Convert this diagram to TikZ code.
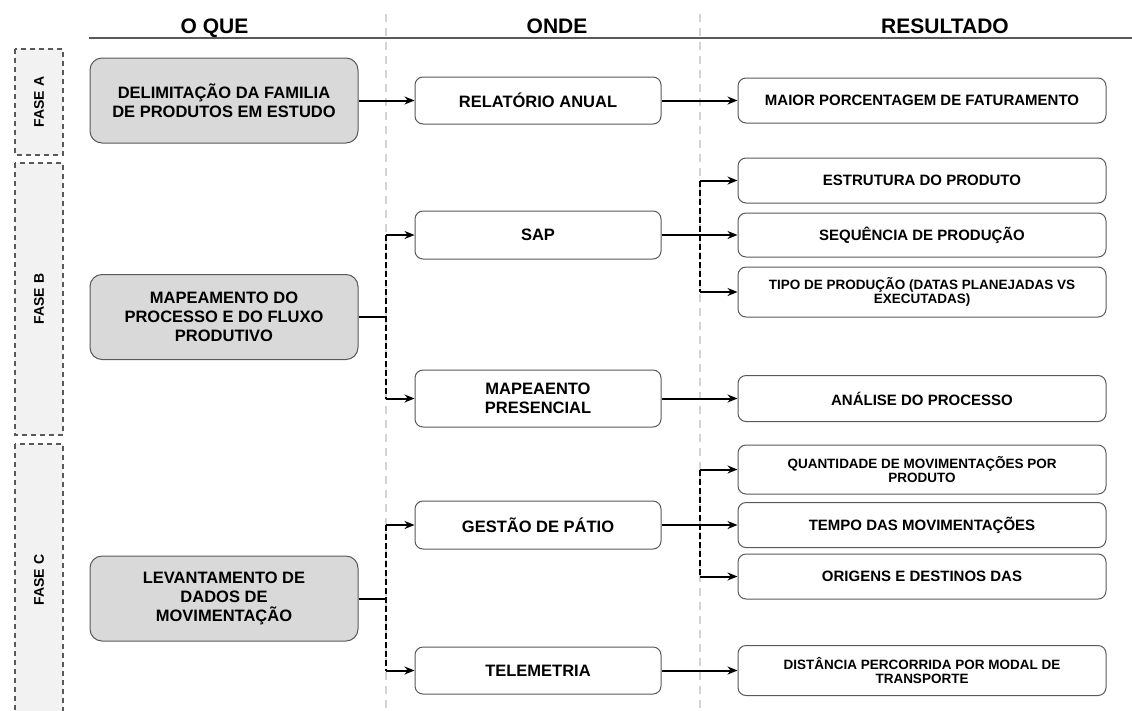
\documentclass[tikz,border=0pt]{standalone}
\usepackage{fontspec}
\setmainfont{Liberation Sans}
\usepackage{tikz}
\usetikzlibrary{arrows.meta,positioning}
\usepackage{xcolor}
\definecolor{boxgray}{RGB}{217,217,217}
\definecolor{fasegray}{RGB}{242,242,242}
\definecolor{edgegray}{RGB}{89,89,89}
\definecolor{sepgray}{RGB}{212,212,212}
\tikzstyle{arrow} = [line width=2pt,-{Stealth[length=10pt,width=8pt]}]
\tikzstyle{link} = [line width=2pt]
\tikzstyle{fork} = [line width=2pt,dash pattern=on 6pt off 3pt]
\tikzstyle{separator} = [sepgray,line width=1.5pt,dash pattern=on 8pt off 6pt]
\tikzstyle{heading} = [anchor=base,font=\fontsize{21}{25}\selectfont\bfseries]
\tikzstyle{phasebox} = [draw=edgegray,fill=fasegray,line width=1.5pt,dash pattern=on 5pt off 4pt,rotate=90,minimum height=48pt,font=\fontsize{14}{16}\selectfont\bfseries]
\tikzstyle{whatbox} = [draw=edgegray,fill=boxgray,line width=1pt,rounded corners=12pt,minimum width=268pt,minimum height=85pt,align=center,font=\fontsize{16.5}{19.3}\selectfont\bfseries]
\tikzstyle{wherebox} = [draw=edgegray,fill=white,line width=1pt,rounded corners=8pt,minimum width=246pt,align=center,font=\fontsize{16.5}{19}\selectfont\bfseries]
\tikzstyle{resultbox} = [draw=edgegray,fill=white,line width=1pt,rounded corners=8pt,minimum width=368pt,align=center,font=\fontsize{15}{17}\selectfont\bfseries]
\tikzstyle{smalltext} = [font=\fontsize{13.5}{14.7}\selectfont\bfseries]

\begin{document}
\begin{tikzpicture}[x=1pt,y=-1pt]
\useasboundingbox (0,0) rectangle (1132,710);

% Column separators
\draw[separator] (386,14) -- (386,710);
\draw[separator] (700,14) -- (700,710);

% Headings
\draw[edgegray,line width=1.5pt] (89,38) -- (1132,38);
\node[heading] (hwhat) at (214.5,33) {O QUE};
\node[heading] (hwhere) at (557,33) {ONDE};
\node[heading] (hresult) at (945,33) {RESULTADO};

% Phases
\node[phasebox,minimum width=106pt] (faseA) at (39,102) {FASE A};
\node[phasebox,minimum width=272pt] (faseB) at (39,299) {FASE B};
\node[phasebox,minimum width=272pt] (faseC) at (39,580) {FASE C};

% O que
\node[whatbox] (whatA) at (224,100.5) {DELIMITAÇÃO DA FAMILIA\\DE PRODUTOS EM ESTUDO};
\node[whatbox] (whatB) at (224,317) {MAPEAMENTO DO\\PROCESSO E DO FLUXO\\PRODUTIVO};
\node[whatbox] (whatC) at (224,598.5) {LEVANTAMENTO DE\\DADOS DE\\MOVIMENTAÇÃO};

% Onde
\node[wherebox,minimum height=47pt] (relatorio) at (538,100.5) {RELATÓRIO ANUAL};
\node[wherebox,minimum height=48pt] (sap) at (538,235) {SAP};
\node[wherebox,minimum height=57pt] (presencial) at (538,398.5) {MAPEAENTO\\PRESENCIAL};
\node[wherebox,minimum height=48pt] (patio) at (538,525) {GESTÃO DE PÁTIO};
\node[wherebox,minimum height=47pt] (telemetria) at (538,670.5) {TELEMETRIA};

% Resultado
\node[resultbox,minimum height=45pt] (faturamento) at (922,100.5) {MAIOR PORCENTAGEM DE FATURAMENTO};
\node[resultbox,minimum height=45pt] (estrutura) at (922,180.5) {ESTRUTURA DO PRODUTO};
\node[resultbox,minimum height=44pt] (sequencia) at (922,235) {SEQUÊNCIA DE PRODUÇÃO};
\node[resultbox,smalltext,minimum height=50pt] (tipo) at (922,292) {TIPO DE PRODUÇÃO (DATAS PLANEJADAS VS\\EXECUTADAS)};
\node[resultbox,minimum height=46pt] (analise) at (922,398.5) {ANÁLISE DO PROCESSO};
\node[resultbox,smalltext,minimum height=49pt] (quantidade) at (922,469.5) {QUANTIDADE DE MOVIMENTAÇÕES POR\\PRODUTO};
\node[resultbox,minimum height=45pt] (tempo) at (922,525) {TEMPO DAS MOVIMENTAÇÕES};
\node[resultbox,minimum height=45pt] (origens) at (922,576.5) {ORIGENS E DESTINOS DAS};
\node[resultbox,smalltext,minimum height=50pt] (distancia) at (922,670.5) {DISTÂNCIA PERCORRIDA POR MODAL DE\\TRANSPORTE};

% Fase A
\draw[arrow] (whatA) -- (relatorio);
\draw[arrow] (relatorio) -- (faturamento);

% Fase B
\coordinate (forkB) at (386,317);
\draw[link] (whatB.east) -- (forkB);
\draw[fork] (forkB |- sap.west) -- (forkB |- presencial.west);
\draw[arrow] (forkB |- sap.west) -- (sap.west);
\draw[arrow] (forkB |- presencial.west) -- (presencial.west);
\coordinate (forkSap) at (700,235);
\draw[link] (sap.east) -- (forkSap);
\draw[fork] (forkSap |- estrutura.west) -- (forkSap |- tipo.west);
\draw[arrow] (forkSap |- estrutura.west) -- (estrutura.west);
\draw[arrow] (forkSap) -- (sequencia.west);
\draw[arrow] (forkSap |- tipo.west) -- (tipo.west);
\draw[arrow] (presencial) -- (analise);

% Fase C
\coordinate (forkC) at (386,598.5);
\draw[link] (whatC.east) -- (forkC);
\draw[fork] (forkC |- patio.west) -- (forkC |- telemetria.west);
\draw[arrow] (forkC |- patio.west) -- (patio.west);
\draw[arrow] (forkC |- telemetria.west) -- (telemetria.west);
\coordinate (forkPatio) at (700,525);
\draw[link] (patio.east) -- (forkPatio);
\draw[fork] (forkPatio |- quantidade.west) -- (forkPatio |- origens.west);
\draw[arrow] (forkPatio |- quantidade.west) -- (quantidade.west);
\draw[arrow] (forkPatio) -- (tempo.west);
\draw[arrow] (forkPatio |- origens.west) -- (origens.west);
\draw[arrow] (telemetria) -- (distancia);
\end{tikzpicture}
\end{document}
